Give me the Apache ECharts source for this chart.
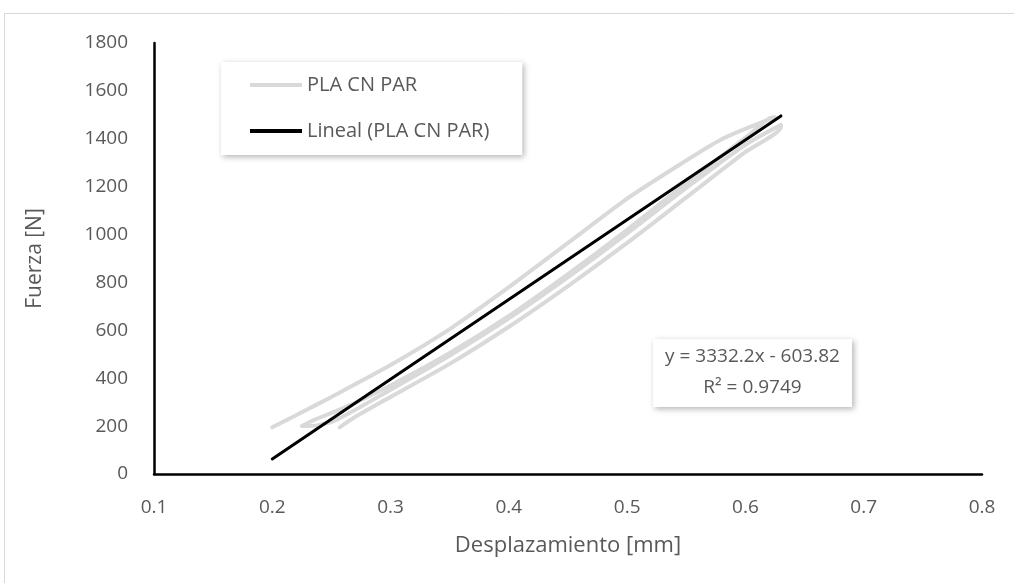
<!DOCTYPE html>
<html>
<head>
<meta charset="utf-8">
<script src="https://cdn.jsdelivr.net/npm/echarts@6/dist/echarts.min.js"></script>
<style>
  html, body { margin: 0; padding: 0; background: #ffffff; }
  #chart { width: 1014px; height: 583px; }
</style>
</head>
<body>
<div id="chart"></div>
<script>
// Cyclic compression test of the PLA CN PAR specimen: displacement [mm] vs force [N].
// The recorded path runs up and down several times; each branch is listed in order.
const loadUp1X   = [0.200, 0.225, 0.250, 0.300, 0.350, 0.400, 0.450, 0.500, 0.540, 0.580, 0.625];
const loadUp1F   = [195,   258,   322,   455,   605,   780,   965,   1150,  1278,  1398,  1490];
const unload1X   = [0.620, 0.600, 0.550, 0.500, 0.450, 0.400, 0.350, 0.300, 0.260, 0.235, 0.225];
const unload1F   = [1485,  1405,  1215,  1020,  835,   660,   505,   370,   275,   225,   200];
const loadUp2X   = [0.225, 0.238, 0.255, 0.300, 0.350, 0.400, 0.450, 0.500, 0.550, 0.600, 0.630];
const loadUp2F   = [200,   203,   228,   352,   495,   650,   822,   1005,  1195,  1375,  1458];
const unload2X   = [0.630, 0.600, 0.550, 0.500, 0.450, 0.400, 0.350, 0.300, 0.270, 0.257];
const unload2F   = [1450,  1345,  1155,  965,   785,   615,   460,   322,   238,   195];

// Linear trend line reported for the series
const trendSlope = 3332.2;
const trendIntercept = -603.82;
const trendR2 = 0.9749;
const trendRangeX = [0.2, 0.63];

// Axis ranges and tick steps
const xRange = [0.1, 0.8];
const xStep = 0.1;
const yRange = [0, 1800];
const yStep = 200;

const seriesName = 'PLA CN PAR';
const trendName = 'Lineal (PLA CN PAR)';
const xTitle = 'Desplazamiento [mm]';
const yTitle = 'Fuerza [N]';

function pairs(xs, ys) { return xs.map((x, i) => [x, ys[i]]); }

const curveData = []
  .concat(pairs(loadUp1X, loadUp1F))
  .concat(pairs(unload1X, unload1F))
  .concat(pairs(loadUp2X, loadUp2F))
  .concat(pairs(unload2X, unload2F));

const trendData = trendRangeX.map(x => [x, trendSlope * x + trendIntercept]);

const fmtSigned = v => (v < 0 ? ' - ' + Math.abs(v) : ' + ' + v);
const eqLine1 = 'y = ' + trendSlope + 'x' + fmtSigned(trendIntercept);
const eqLine2 = 'R\u00B2 = ' + trendR2;

const textGray = '#595959';
const font = '"Open Sans", "Noto Sans", sans-serif';

const chart = echarts.init(document.getElementById('chart'), null, { renderer: 'canvas' });

chart.setOption({
  backgroundColor: '#ffffff',
  animation: false,
  textStyle: { fontFamily: font },
  grid: { left: 154, right: 32, top: 43, bottom: 109, containLabel: false },
  xAxis: {
    type: 'value',
    min: xRange[0], max: xRange[1], interval: xStep,
    name: xTitle, nameLocation: 'middle', nameGap: 61,
    nameTextStyle: { color: textGray, fontSize: 22, fontFamily: font },
    axisLine: { show: true, onZero: false, lineStyle: { color: '#000000', width: 2.5 } },
    axisTick: { show: false },
    splitLine: { show: false },
    axisLabel: {
      color: textGray, fontSize: 19, fontFamily: font, margin: 24,
      formatter: v => (Math.round(v * 10) / 10).toFixed(1)
    }
  },
  yAxis: {
    type: 'value',
    min: yRange[0], max: yRange[1], interval: yStep,
    name: yTitle, nameLocation: 'middle', nameGap: 108,
    nameTextStyle: { color: textGray, fontSize: 21, fontFamily: font },
    axisLine: { show: true, onZero: false, lineStyle: { color: '#000000', width: 2.5 } },
    axisTick: { show: false },
    splitLine: { show: false },
    axisLabel: { color: textGray, fontSize: 19, fontFamily: font, margin: 26, formatter: v => String(v) }
  },
  legend: {
    left: 221, top: 62,
    orient: 'vertical',
    backgroundColor: '#ffffff',
    shadowColor: 'rgba(0,0,0,0.3)', shadowBlur: 6, shadowOffsetX: 2, shadowOffsetY: 2,
    padding: [12, 33, 13, 29],
    itemWidth: 52, itemHeight: 4, itemGap: 24,
    textStyle: { color: textGray, fontSize: 20, lineHeight: 22, fontFamily: font },
    data: [
      { name: seriesName, icon: 'rect' },
      { name: trendName, icon: 'rect' }
    ]
  },
  series: [
    {
      name: seriesName,
      type: 'line',
      data: curveData,
      symbol: 'none',
      smooth: 0.25,
      lineStyle: { color: '#d9d9d9', width: 4, cap: 'round', join: 'round' },
      itemStyle: { color: '#d9d9d9' },
      z: 2
    },
    {
      name: trendName,
      type: 'line',
      data: trendData,
      symbol: 'none',
      lineStyle: { color: '#000000', width: 3, cap: 'round' },
      itemStyle: { color: '#000000' },
      z: 3
    }
  ],
  graphic: [
    {
      type: 'rect', silent: true, z: -1,
      shape: { x: 4.5, y: 13.5, width: 1100, height: 700 },
      style: { fill: 'none', stroke: '#d9d9d9', lineWidth: 1 }
    },
    {
      type: 'group', left: 653, top: 339, z: 10,
      children: [
        {
          type: 'rect',
          shape: { x: 0, y: 0, width: 199, height: 68 },
          style: {
            fill: '#ffffff',
            shadowColor: 'rgba(0,0,0,0.3)', shadowBlur: 6, shadowOffsetX: 2, shadowOffsetY: 2
          }
        },
        {
          type: 'text', x: 99.5, y: 18,
          style: { text: eqLine1, fill: textGray, font: '19px ' + font, align: 'center', verticalAlign: 'middle' }
        },
        {
          type: 'text', x: 99.5, y: 49,
          style: { text: eqLine2, fill: textGray, font: '19px ' + font, align: 'center', verticalAlign: 'middle' }
        }
      ]
    }
  ]
});
</script>
</body>
</html>
